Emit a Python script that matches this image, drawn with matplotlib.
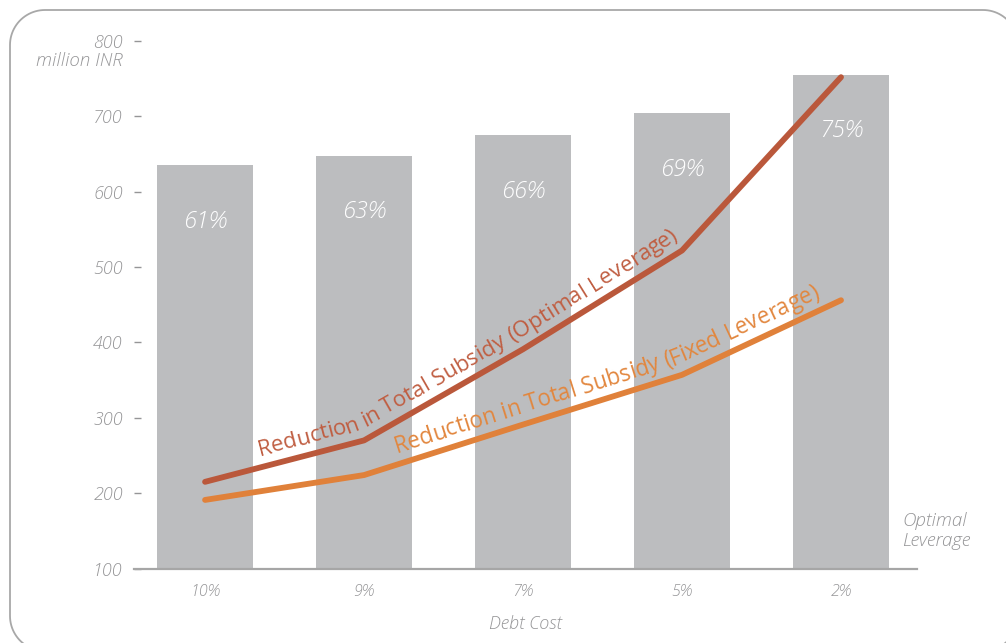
import numpy as np
import matplotlib
matplotlib.use("Agg")
import matplotlib.pyplot as plt
from matplotlib.patches import PathPatch
from matplotlib.path import Path
from matplotlib.transforms import IdentityTransform
from matplotlib.textpath import TextToPath
from matplotlib.font_manager import FontProperties

# ---------------- data ----------------
categories = ["10%", "9%", "7%", "5%", "2%"]
bar_values = [635, 648, 675, 704, 755]
bar_labels = ["61%", "63%", "66%", "69%", "75%"]
optimal_subsidy = [215, 270, 391, 522, 752]
fixed_subsidy = [191, 224, 291, 357, 456]
y_ticks = [100, 200, 300, 400, 500, 600, 700, 800]
label_optimal = "Reduction in Total Subsidy (Optimal Leverage)"
label_fixed = "Reduction in Total Subsidy (Fixed Leverage)"

# ---------------- style ----------------
FONT = "Open Sans"
GRAY_TXT = "#959597"
BAR_C = "#BCBDBF"
RED = "#BA583B"
RED_TXT = "#C05E42"
ORANGE = "#E0813A"
ORANGE_TXT = "#E2873F"
PATH_WEIGHT = "normal"

W, H, DPI = 1006, 643, 100
fig = plt.figure(figsize=(W / DPI, H / DPI), dpi=DPI)
fig.patch.set_facecolor("white")


# rounded frame (extends past right / bottom edge), built in pixel coords
def rounded_rect_path(x0, y0, x1, y1, r, n=24):
    # image coords (y down) -> display coords (y up)
    verts = []
    corners = [((x1 - r, y0 + r), 90, 0),     # top-right
               ((x1 - r, y1 - r), 0, -90),    # bottom-right
               ((x0 + r, y1 - r), -90, -180), # bottom-left
               ((x0 + r, y0 + r), 180, 90)]   # top-left
    for (cx, cy), a0, a1 in corners:
        for a in np.linspace(np.radians(a0), np.radians(a1), n):
            verts.append((cx + r * np.cos(a), H - (cy - r * np.sin(a))))
    verts.append(verts[0])
    return Path(verts, closed=True)


frame = PathPatch(rounded_rect_path(10, 10, 1018, 651, 35),
                  transform=IdentityTransform(), facecolor="none",
                  edgecolor="#A8A8A8", linewidth=1.3)
fig.patches.append(frame)

left_px, right_px = 134, 917
bottom_px, top_px = 568.5, 41
ax = fig.add_axes([left_px / W, (H - bottom_px) / H,
                   (right_px - left_px) / W, (bottom_px - top_px) / H])
ax.set_facecolor("none")

x = np.arange(len(categories))
ax.bar(x, bar_values, width=0.604, color=BAR_C, bottom=0, zorder=1)
ax.set_xlim(-0.447, 4.478)
ax.set_ylim(100, 800)

for xi, v, lab in zip(x, bar_values, bar_labels):
    ax.text(xi, v - 75, lab, ha="center", va="center", color="white",
            fontsize=17, fontstyle="italic", family=FONT, fontweight="light",
            zorder=3)

ax.plot(x, optimal_subsidy, color=RED, lw=4.2, solid_capstyle="round",
        solid_joinstyle="round", zorder=4)
ax.plot(x, fixed_subsidy, color=ORANGE, lw=4.2, solid_capstyle="round",
        solid_joinstyle="round", zorder=4)

for s in ["left", "top", "right"]:
    ax.spines[s].set_visible(False)
ax.spines["bottom"].set_color("#A6A6A6")
ax.spines["bottom"].set_linewidth(1.6)

ax.set_yticks(y_ticks)
ax.set_yticklabels([str(t) for t in y_ticks])
ax.tick_params(axis="y", direction="in", length=5.2, width=1.0,
               color=GRAY_TXT, pad=8, labelsize=13, labelcolor=GRAY_TXT)
ax.set_xticks(x)
ax.set_xticklabels(categories)
ax.tick_params(axis="x", length=0, pad=11, labelsize=11.5, labelcolor=GRAY_TXT)
for t in ax.get_yticklabels() + ax.get_xticklabels():
    t.set_fontstyle("italic")
    t.set_family(FONT)
    t.set_fontweight("light")

ax.set_xlabel("Debt Cost", fontsize=13, color=GRAY_TXT, fontstyle="italic",
              family=FONT, fontweight="light", labelpad=11)

fig.text(123 / W, (H - 61) / H, "million INR", ha="right", va="center",
         fontsize=13.5, color=GRAY_TXT, fontstyle="italic", family=FONT,
         fontweight="light")
fig.text(902 / W, (H - 531) / H, "Optimal\nLeverage", ha="left", va="center",
         fontsize=13.5, color=GRAY_TXT, fontstyle="italic", family=FONT,
         fontweight="light", linespacing=1.2)

# ---------------- text along path ----------------
t2p = TextToPath()


def text_on_line(xs, ys, text, x_start, x_end, offset_px, color):
    pts = ax.transData.transform(np.column_stack([xs, ys]))
    seg = np.diff(pts, axis=0)
    seglen = np.hypot(seg[:, 0], seg[:, 1])
    cum = np.concatenate([[0], np.cumsum(seglen)])

    def pos(s):
        s = np.clip(s, 0, cum[-1])
        i = min(np.searchsorted(cum, s, side="right") - 1, len(seglen) - 1)
        f = (s - cum[i]) / seglen[i]
        return pts[i] + f * seg[i]

    ss = np.linspace(0, cum[-1], 6000)
    xx = np.array([pos(s)[0] for s in ss])

    def s_at(xd):
        xp = ax.transData.transform((xd, 0))[0]
        return ss[np.argmin(np.abs(xx - xp))]

    s0, s1 = s_at(x_start), s_at(x_end)
    scale = DPI / 72.0

    def widths(fs):
        prop = FontProperties(family=FONT, size=fs, weight=PATH_WEIGHT)
        out = []
        for ch in text:
            w, h, d = t2p.get_text_width_height_descent(
                ch if ch != " " else "n", prop, ismath=False)
            if ch == " ":
                w *= 0.45
            out.append(w * scale)
        return np.array(out)

    w10 = widths(10.0).sum()
    fs = 10.0 * (s1 - s0) / w10
    ws = widths(fs)

    win = 24
    s = s0
    for ch, w in zip(text, ws):
        sc = s + w / 2
        p0 = pos(sc - win)
        p1 = pos(sc + win)
        ang = np.arctan2(p1[1] - p0[1], p1[0] - p0[0])
        n = np.array([-np.sin(ang), np.cos(ang)])
        c = pos(sc) + n * offset_px
        if ch != " ":
            fig.text(c[0], c[1], ch, transform=IdentityTransform(),
                     rotation=np.degrees(ang), rotation_mode="anchor",
                     ha="center", va="baseline", fontsize=fs,
                     color=color, family=FONT, fontweight=PATH_WEIGHT, zorder=5)
        s += w


text_on_line(x, optimal_subsidy, label_optimal, 0.36, 3.02, 11.5, RED_TXT)
text_on_line(x, fixed_subsidy, label_fixed, 1.225, 3.9, 11.5, ORANGE_TXT)

fig.savefig("out.png", dpi=DPI)
